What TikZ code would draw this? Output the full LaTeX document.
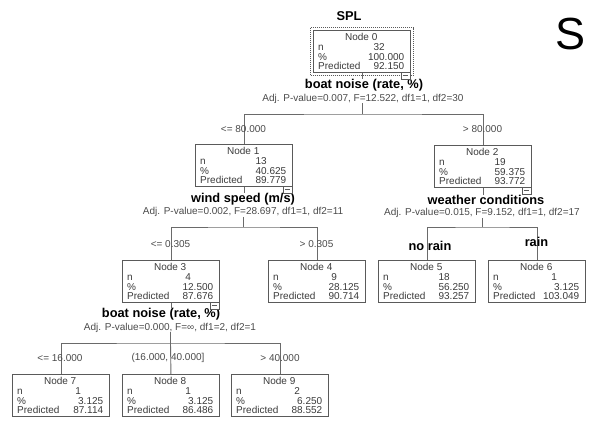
\documentclass[tikz,border=0pt]{standalone}
\usepackage{fontspec}
\setmainfont{Liberation Sans}
\usetikzlibrary{calc}
\definecolor{boxgray}{HTML}{5A5A5A}
\definecolor{linegray}{HTML}{6A6A6A}
\definecolor{txtgray}{HTML}{3A3A3A}
\definecolor{adjgray}{HTML}{4A4A4A}
\newcommand\tnode[7]{%
  \node[nodebox] (#1) at (#2,#3) {};
  \node[celltext] (#1t) at ($(#1.north west)+(5,10.8)$)
    {\parbox[t]{86pt}{\fontsize{10}{9.6}\selectfont
      \makebox[86pt]{Node #4}\\
      n\hfill\makebox[0pt]{#5}\makebox[25pt]{}\\
      \%\hfill #6\\
      Predicted\hfill #7}};
}
\begin{document}
\begin{tikzpicture}[x=1pt,y=-1pt,
  nodebox/.style={draw=boxgray, line width=0.9pt, minimum width=97pt, minimum height=42pt, anchor=north west, inner sep=0pt},
  celltext/.style={anchor=base west, inner sep=0pt, text=txtgray},
  title/.style={inner sep=0pt, font=\fontsize{12.8}{14}\selectfont\bfseries, text=black},
  adj/.style={inner sep=0pt, font=\fontsize{10}{12}\selectfont, text=adjgray},
  elabel/.style={inner sep=0pt, font=\fontsize{10}{12}\selectfont, text=adjgray},
  conn/.style={draw=linegray, line width=0.9pt},
  minusbox/.style={draw=boxgray, fill=white, line width=0.7pt, minimum width=9pt, minimum height=7pt, inner sep=0pt, text=boxgray}
]
\useasboundingbox (0,0) rectangle (589,423);

% nodes
\tnode{n0}{313}{30}{0}{32}{100.000}{92.150}
\tnode{n1}{195}{144}{1}{13}{40.625}{89.779}
\tnode{n2}{434}{145}{2}{19}{59.375}{93.772}
\tnode{n3}{122}{260}{3}{4}{12.500}{87.676}
\tnode{n4}{268}{260}{4}{9}{28.125}{90.714}
\tnode{n5}{378}{260}{5}{18}{56.250}{93.257}
\tnode{n6}{488}{260}{6}{1}{3.125}{103.049}
\tnode{n7}{12}{374}{7}{1}{3.125}{87.114}
\tnode{n8}{122}{374}{8}{1}{3.125}{86.486}
\tnode{n9}{231}{374}{9}{2}{6.250}{88.552}

\draw[densely dotted, line width=1pt, boxgray] ($(n0.north west)+(-2.5,-2.5)$) rectangle ($(n0.south east)+(2.5,2.5)$);

% titles
\node[title] (s0) at (349,16) {SPL};
\node[title] (t0) at (364,85) {boat noise (rate, \%)};
\node[adj] (a0) at (363,98.5) {Adj. P-value=0.007, F=12.522, df1=1, df2=30};
\node[title] (t1) at (243,199.5) {wind speed (m/s)};
\node[adj] (a1) at (243,212) {Adj. P-value=0.002, F=28.697, df1=1, df2=11};
\node[title] (t2) at (486,199.5) {weather conditions};
\node[adj] (a2) at (482,213) {Adj. P-value=0.015, F=9.152, df1=1, df2=17};
\node[title] (t3) at (161,314) {boat noise (rate, \%)};
\node[adj] (a3) at (170,327.5) {Adj. P-value=0.000, F=∞, df1=2, df2=1};

% junctions
\coordinate (j0) at (362,114);
\coordinate (j1) at (243.5,227);
\coordinate (j2) at (482.5,227);
\coordinate (j3) at (170.5,343);

% connectors
\draw[conn] (n0.south) -- (n0.south |- t0.north);
\draw[conn] (a0.south -| j0) -- (j0);
\draw[conn] (n1.north) |- (j0) -| (n2.north);

\draw[conn] (n1.south) -- (n1.south |- t1.north);
\draw[conn] (a1.south -| j1) -- (j1);
\draw[conn] (n3.north) |- (j1) -| (n4.north);

\draw[conn] (n2.south) -- (n2.south |- t2.north);
\draw[conn] (a2.south -| j2) -- (j2);
\draw[conn] (n5.north) |- (j2) -| (n6.north);

\draw[conn] (n3.south) -- (n3.south |- t3.north);
\draw[conn] (a3.south -| j3) -- (j3);
\draw[conn] (n7.north) |- (j3) -| (n9.north);
\draw[conn] (j3) -- (n8.north);

% minus boxes
\node[minusbox] (n0m) at ($(n0.south east)+(-5.5,2.5)$) {\rule{5pt}{0.8pt}};
\node[minusbox] (n1m) at ($(n1.south east)+(-5.5,2.5)$) {\rule{5pt}{0.8pt}};
\node[minusbox] (n2m) at ($(n2.south east)+(-5.5,2.5)$) {\rule{5pt}{0.8pt}};
\node[minusbox] (n3m) at ($(n3.south east)+(-5.5,2.5)$) {\rule{5pt}{0.8pt}};

% edge labels
\node[elabel] (l1) at (243.5,129) {<= 80.000};
\node[elabel] (l2) at (482.5,129) {> 80.000};
\node[elabel] (l3) at (170.5,244) {<= 0.305};
\node[elabel] (l4) at (316.5,244) {> 0.305};
\node[title] (l5) at (430,246) {no rain};
\node[title] (l6) at (536.5,242) {rain};
\node[elabel] (l7) at (60,358) {<= 16.000};
\node[elabel] (l8) at (168,358) {(16.000, 40.000]};
\node[elabel] (l9) at (280,358) {> 40.000};

% big letter
\node[inner sep=0pt, font=\fontsize{45}{45}\selectfont] (bigS) at (571,34) {S};
\end{tikzpicture}
\end{document}
